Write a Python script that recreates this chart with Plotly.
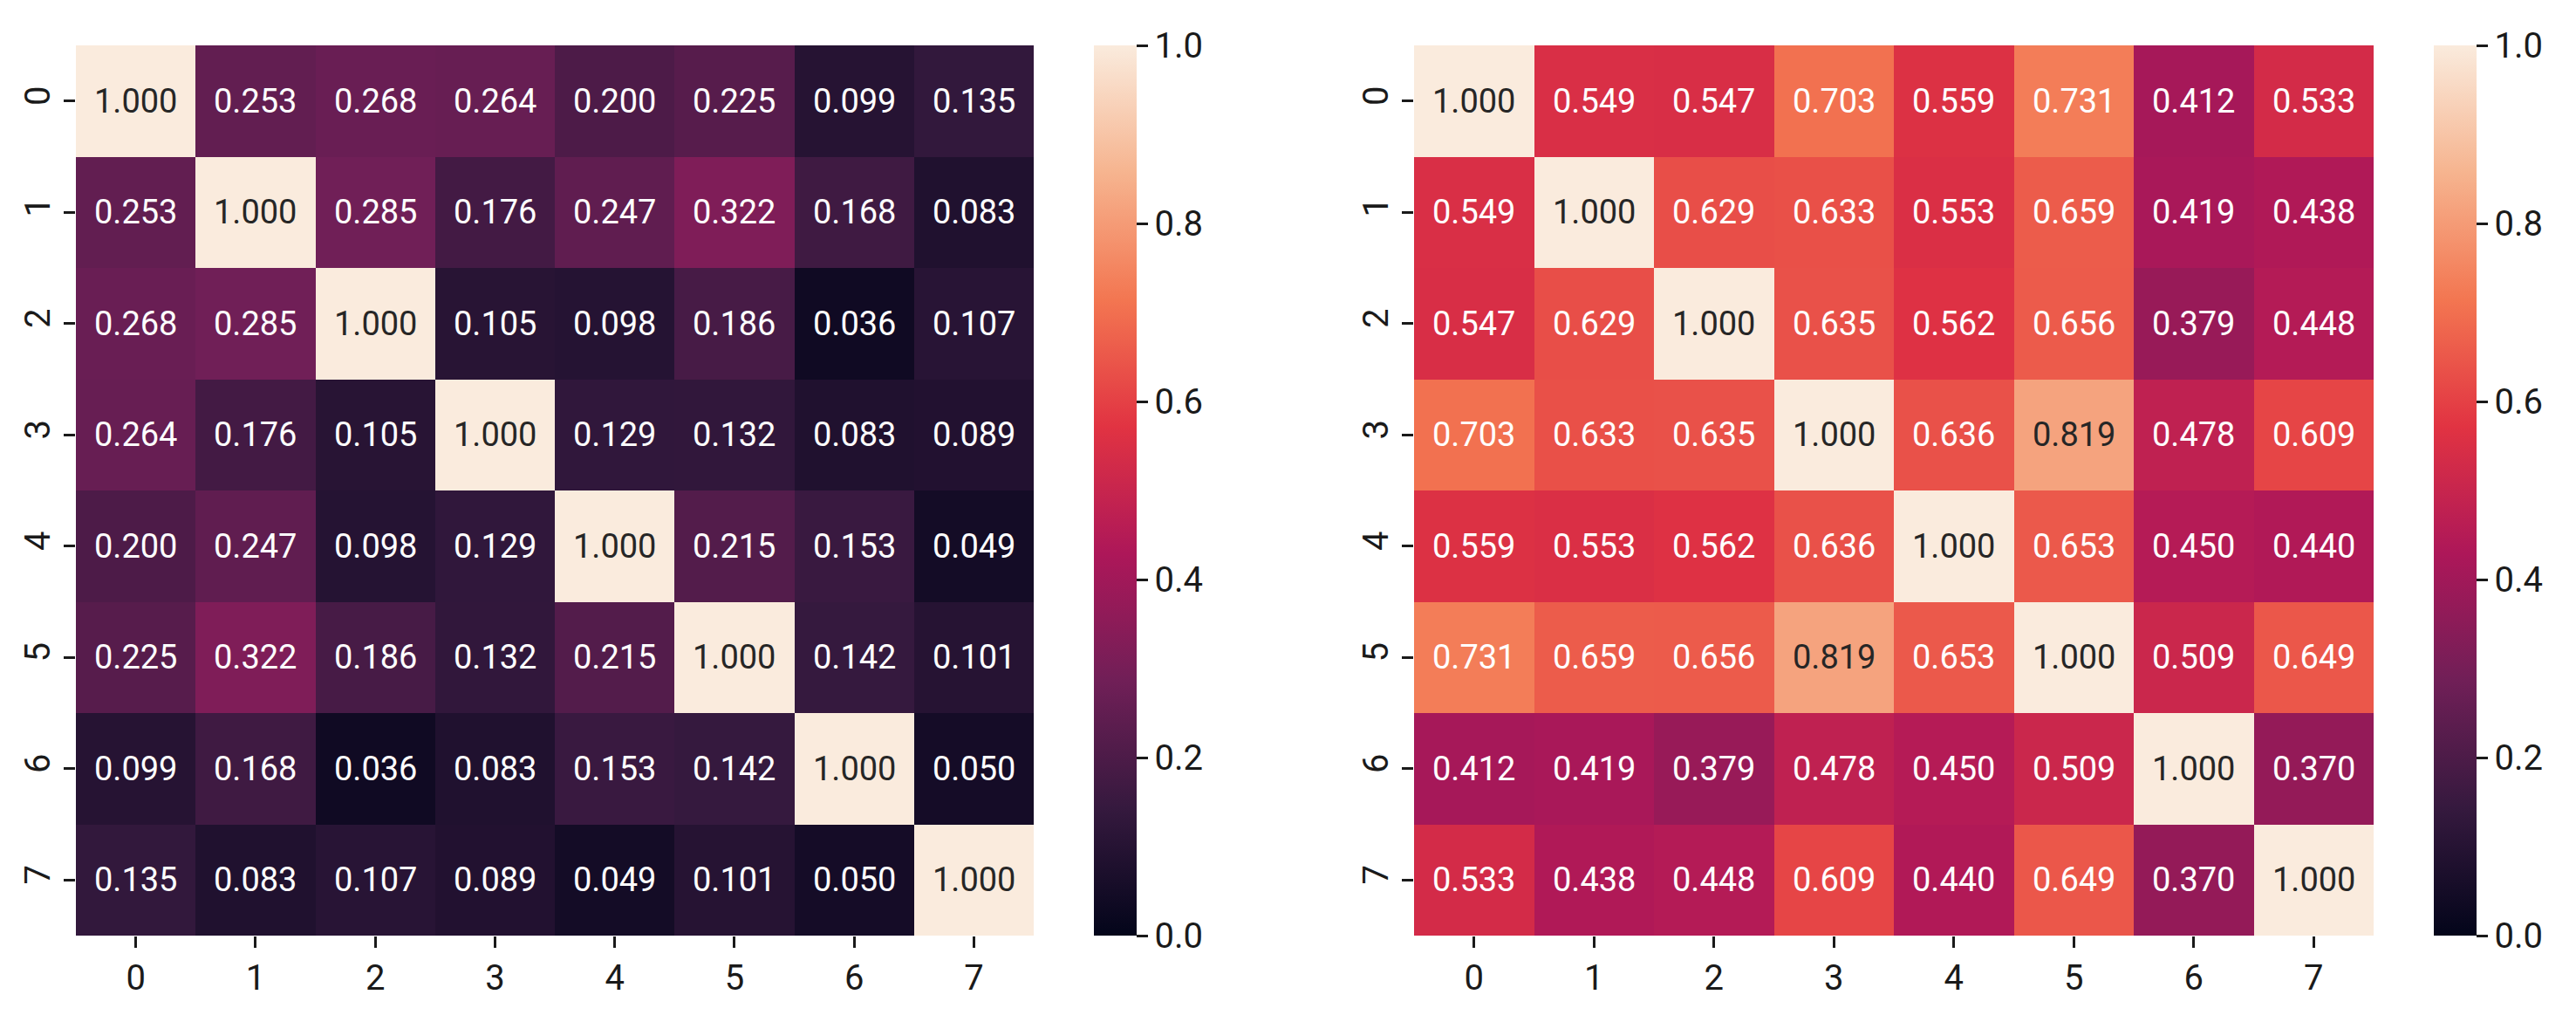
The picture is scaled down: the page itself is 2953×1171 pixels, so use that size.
import plotly.graph_objects as go

labels = ["0", "1", "2", "3", "4", "5", "6", "7"]

corr_left = [
    [1.000, 0.253, 0.268, 0.264, 0.200, 0.225, 0.099, 0.135],
    [0.253, 1.000, 0.285, 0.176, 0.247, 0.322, 0.168, 0.083],
    [0.268, 0.285, 1.000, 0.105, 0.098, 0.186, 0.036, 0.107],
    [0.264, 0.176, 0.105, 1.000, 0.129, 0.132, 0.083, 0.089],
    [0.200, 0.247, 0.098, 0.129, 1.000, 0.215, 0.153, 0.049],
    [0.225, 0.322, 0.186, 0.132, 0.215, 1.000, 0.142, 0.101],
    [0.099, 0.168, 0.036, 0.083, 0.153, 0.142, 1.000, 0.050],
    [0.135, 0.083, 0.107, 0.089, 0.049, 0.101, 0.050, 1.000],
]

corr_right = [
    [1.000, 0.549, 0.547, 0.703, 0.559, 0.731, 0.412, 0.533],
    [0.549, 1.000, 0.629, 0.633, 0.553, 0.659, 0.419, 0.438],
    [0.547, 0.629, 1.000, 0.635, 0.562, 0.656, 0.379, 0.448],
    [0.703, 0.633, 0.635, 1.000, 0.636, 0.819, 0.478, 0.609],
    [0.559, 0.553, 0.562, 0.636, 1.000, 0.653, 0.450, 0.440],
    [0.731, 0.659, 0.656, 0.819, 0.653, 1.000, 0.509, 0.649],
    [0.412, 0.419, 0.379, 0.478, 0.450, 0.509, 1.000, 0.370],
    [0.533, 0.438, 0.448, 0.609, 0.440, 0.649, 0.370, 1.000],
]

cbar_ticks = [0.0, 0.2, 0.4, 0.6, 0.8, 1.0]

rocket = [
    [0.0, "#03051A"],
    [1 / 7, "#35193E"],
    [2 / 7, "#701F57"],
    [3 / 7, "#AD1759"],
    [4 / 7, "#E13342"],
    [5 / 7, "#F37651"],
    [6 / 7, "#F6B48F"],
    [1.0, "#FAEBDD"],
]

FONT = "Roboto"
W, H = 2953, 1171
y_top, y_bot = 1 - 52 / H, 1 - 1072 / H

fig = go.Figure()

panels = [
    (corr_left, "x", "y", [87 / W, 1185 / W], 1254 / W),
    (corr_right, "x2", "y2", [1621 / W, 2721 / W], 2790 / W),
]

for z, xa, ya, dom, cbx in panels:
    fig.add_trace(go.Heatmap(
        z=z, x=labels, y=labels, xaxis=xa, yaxis=ya,
        zmin=0, zmax=1, colorscale=rocket, xgap=0, ygap=0,
        hoverinfo="skip",
        colorbar=dict(
            x=cbx, xanchor="left", xpad=0, ypad=0,
            y=(y_top + y_bot) / 2, yanchor="middle",
            len=y_top - y_bot, lenmode="fraction",
            thickness=49, thicknessmode="pixels",
            outlinewidth=0,
            tickvals=cbar_ticks, ticktext=[f"{v:.1f}" for v in cbar_ticks],
            ticks="outside", ticklen=13, tickwidth=2.5, tickcolor="#1a1a1a",
            tickfont=dict(family=FONT, size=40, color="#1a1a1a"),
        ),
    ))
    for i, row in enumerate(z):
        for j, v in enumerate(row):
            fig.add_annotation(
                x=labels[j], y=labels[i], xref=xa, yref=ya,
                text=f"{v:.3f}", showarrow=False,
                font=dict(family=FONT, size=38,
                          color="#262626" if v > 0.78 else "#FFFFFF"),
            )

axis_common = dict(
    type="category", showgrid=False, zeroline=False, showline=False,
    ticks="outside", ticklen=13, tickwidth=2.5, tickcolor="#1a1a1a",
    tickfont=dict(family=FONT, size=40, color="#1a1a1a"),
)

fig.update_layout(
    width=W, height=H,
    margin=dict(l=0, r=0, t=0, b=0),
    paper_bgcolor="white", plot_bgcolor="white",
    showlegend=False,
    xaxis=dict(domain=panels[0][3], anchor="y", **axis_common),
    yaxis=dict(domain=[y_bot, y_top], anchor="x", autorange="reversed",
               tickangle=-90, **axis_common),
    xaxis2=dict(domain=panels[1][3], anchor="y2", **axis_common),
    yaxis2=dict(domain=[y_bot, y_top], anchor="x2", autorange="reversed",
                tickangle=-90, **axis_common),
)

fig.write_html("out.html")
